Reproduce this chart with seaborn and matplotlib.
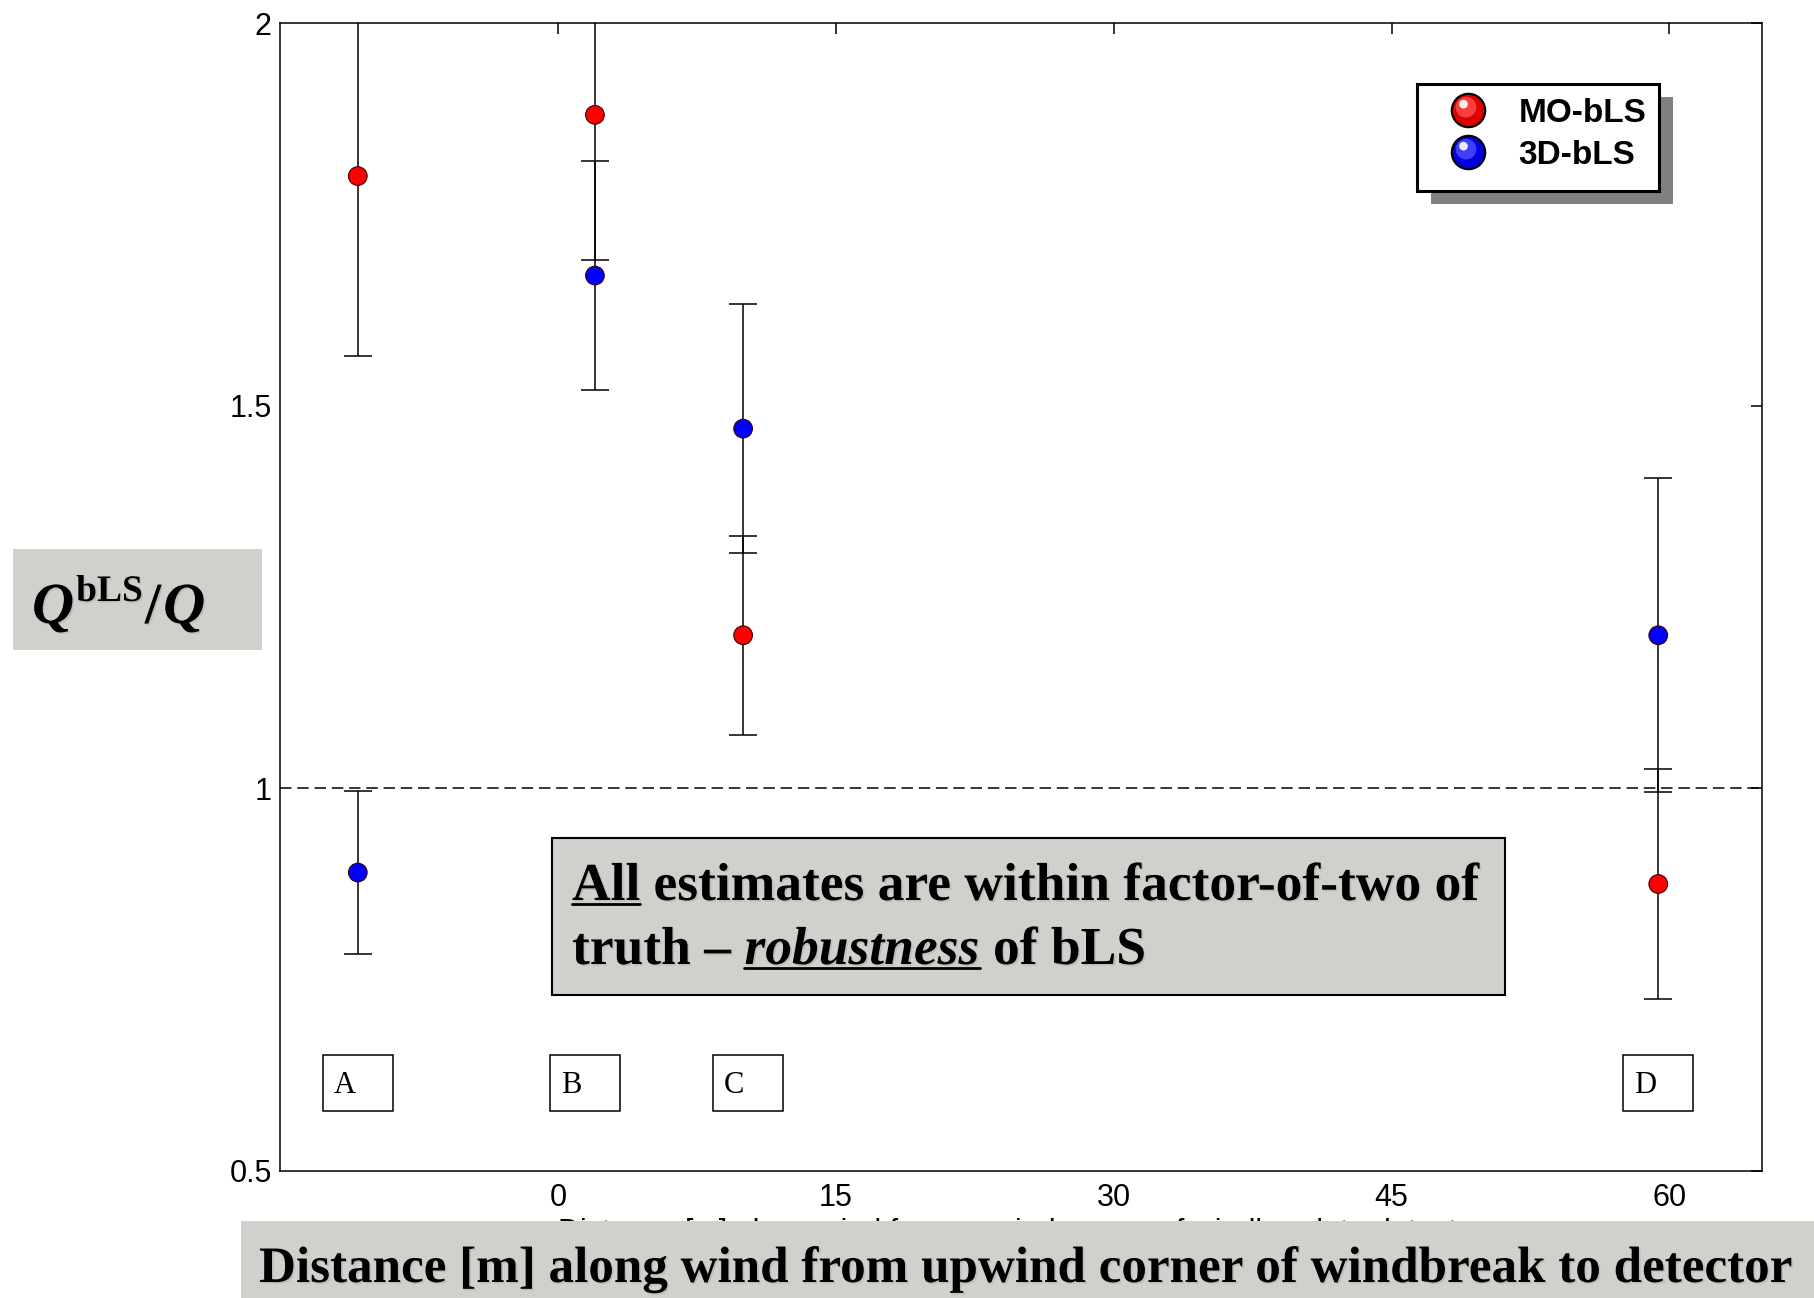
import numpy as np
import pandas as pd
import matplotlib
matplotlib.use("Agg")
import matplotlib.pyplot as plt
import seaborn as sns
from matplotlib.patches import Rectangle
from matplotlib.lines import Line2D
from matplotlib.path import Path
from matplotlib.legend_handler import HandlerTuple
import matplotlib.patheffects as pe

# Detector sites and their distance along the wind [m]
sites = ["A", "B", "C", "D"]
distance = [-10.8, 2.0, 10.0, 59.4]

# Ratio of inferred to true emission rate, with error half-widths
mo_bls = [1.80, 1.88, 1.20, 0.875]
mo_bls_err = [0.235, 0.19, 0.13, 0.15]
bls_3d = [0.89, 1.67, 1.47, 1.20]
bls_3d_err = [0.107, 0.15, 0.163, 0.205]

methods = ["MO-bLS", "3D-bLS"]
xticks = [0, 15, 30, 45, 60]
yticks = [0.5, 1.0, 1.5, 2.0]
ytick_labels = ["0.5", "1", "1.5", "2"]

df = pd.DataFrame({
    "site": sites * 2,
    "x": distance * 2,
    "method": [methods[0]] * 4 + [methods[1]] * 4,
    "ratio": mo_bls + bls_3d,
    "err": mo_bls_err + bls_3d_err,
})

W, H, DPI = 1815, 1298, 100
GREY = "#d2d0cc"
SERIF = "Liberation Serif"

sns.set_style("white")
plt.rcParams["font.family"] = ["Liberation Sans", "DejaVu Sans"]
plt.rcParams.update({"text.color": "black", "axes.labelcolor": "black",
                     "xtick.color": "black", "ytick.color": "black"})

fig = plt.figure(figsize=(W / DPI, H / DPI), dpi=DPI)
ax = fig.add_axes([280 / W, 1 - 1171 / H, 1482 / W, 1148 / H])

# error bars first, markers on top
ax.errorbar(df["x"], df["ratio"], yerr=df["err"], fmt="none", ecolor="black",
            elinewidth=1.1, capsize=10, capthick=1.1, zorder=2)
sns.scatterplot(data=df, x="x", y="ratio", hue="method",
                palette={"MO-bLS": "#ff0000", "3D-bLS": "#0000ff"},
                s=180, marker="o", edgecolor="#3a0000", linewidth=0.8,
                legend=False, ax=ax, zorder=3)

ax.axhline(1.0, color="black", lw=1.1, ls=(0, (7.5, 3.8)), zorder=1)

ax.set_xlim(-15, 65)
ax.set_ylim(0.5, 2.0)
ax.set_xticks(xticks)
ax.set_xticklabels([str(t) for t in xticks])
ax.set_yticks(yticks)
ax.set_yticklabels(ytick_labels)
ax.tick_params(axis="both", direction="in", length=8, width=1.1, top=True,
               right=True, labelsize=22, colors="black")
ax.tick_params(axis="x", pad=9)
ax.tick_params(axis="y", pad=6)
for sp in ax.spines.values():
    sp.set_visible(True)
    sp.set_color("black")
    sp.set_linewidth(1.1)
ax.set_ylabel("")
ax.set_xlabel("Distance [m] along wind from upwind corner of windbreak to detector",
              fontsize=22, labelpad=3, color="black")

# site label boxes under each detector
label_shift = [0.0, -0.55, 0.25, 0.0]
for name, xs, dx in zip(sites, distance, label_shift):
    ax.add_patch(Rectangle((xs + dx - 1.9, 0.578), 3.8, 0.074, fill=False,
                           edgecolor="black", lw=1.1, zorder=2))
    ax.text(xs + dx - 1.3, 0.612, name, family=SERIF, fontsize=22,
            ha="left", va="center", zorder=2, color="black")


# legend with shaded sphere symbols
def sphere(face, mid):
    base = Line2D([], [], ls="none", marker="o", ms=24, mfc=face,
                  mec="black", mew=1.6)
    glow_path = Path.make_compound_path(Path([[1.0, 1.0]], [Path.MOVETO]),
                                        Path.circle((-0.15, 0.2), 0.62))
    glow = Line2D([], [], ls="none", marker=glow_path, ms=24, mfc=mid,
                  mec="none", alpha=0.8)
    hl_path = Path.make_compound_path(Path([[1.0, 1.0]], [Path.MOVETO]),
                                      Path.circle((-0.3, 0.38), 0.26))
    hl = Line2D([], [], ls="none", marker=hl_path, ms=24, mfc="white",
                mec="none", alpha=0.9)
    return (base, glow, hl)


lx0, ly0, lw_, lh_ = 0.767, 0.8537, 0.1635, 0.0932
ax.add_patch(Rectangle((lx0 + 0.0094, ly0 - 0.0113), lw_, lh_,
                       transform=ax.transAxes, facecolor="#808080",
                       edgecolor="none", zorder=4, clip_on=False))
ax.add_patch(Rectangle((lx0, ly0), lw_, lh_, transform=ax.transAxes,
                       facecolor="white", edgecolor="black", lw=2.2,
                       zorder=5, clip_on=False))
leg = ax.legend([sphere("#e00000", "#ff5050"), sphere("#0000e0", "#5050ff")],
                methods, handler_map={tuple: HandlerTuple(ndivide=1, pad=0)},
                loc="upper left", bbox_to_anchor=(0.7873, 0.935),
                frameon=False, borderpad=0, borderaxespad=0,
                handlelength=1.3, handletextpad=0.85, labelspacing=0.33,
                prop={"family": "Liberation Sans", "weight": "bold", "size": 24})
leg.set_zorder(6)

# grey label panels
shadow = [pe.withSimplePatchShadow(offset=(1.2, -1.2), shadow_rgbFace="0.55",
                                   alpha=0.25)]
fig.add_artist(Rectangle((13 / W, 1 - 650 / H), 249 / W, 101 / H,
                         transform=fig.transFigure, facecolor=GREY,
                         edgecolor="none", zorder=5))
fig.add_artist(Rectangle((241 / W, 0), (W - 241) / W, 77 / H,
                         transform=fig.transFigure, facecolor=GREY,
                         edgecolor="none", zorder=5))
fig.add_artist(Rectangle((552 / W, 1 - 995 / H), 953 / W, 157 / H,
                         transform=fig.transFigure, facecolor=GREY,
                         edgecolor="black", lw=1.5, zorder=5))

renderer = fig.canvas.get_renderer()


def place_runs(runs, x_px, y_px, gap=True):
    """Lay out styled text pieces on one baseline (pixel coords from top)."""
    x = x_px
    for text, size, style, dy, underline in runs:
        t = fig.text(x / W, 1 - (y_px - dy) / H, text, ha="left", va="baseline",
                     family=SERIF, weight="bold", style=style, fontsize=size,
                     color="black", path_effects=shadow, zorder=6)
        bb = t.get_window_extent(renderer)
        if underline:
            yl = H - y_px - 0.07 * size * DPI / 72
            fig.add_artist(Line2D([bb.x0 / W, bb.x1 / W], [yl / H, yl / H],
                                  transform=fig.transFigure, color="black",
                                  lw=2.0, zorder=6))
        x = bb.x1 + (0.25 * size * DPI / 72 if gap else 2)


# y-axis quantity
place_runs([("Q", 42, "italic", 0, False),
            ("bLS", 27, "normal", 22, False),
            ("/", 42, "normal", 0, False),
            ("Q", 42, "italic", 0, False)], 32, 623, gap=False)

# statement panel
place_runs([("All", 38.5, "normal", 0, True),
            ("estimates are within factor-of-two of", 38.5, "normal", 0, False)],
           572, 900)
place_runs([("truth \u2013", 38.5, "normal", 0, False),
            ("robustness", 38.5, "italic", 0, True),
            ("of bLS", 38.5, "normal", 0, False)], 572, 964)

# x-axis description
fig.text(259 / W, 1 - 1282 / H,
         "Distance [m] along wind from upwind corner of windbreak to detector",
         family=SERIF, weight="bold", fontsize=36.8, ha="left", va="baseline",
         color="black", path_effects=shadow, zorder=6)

fig.savefig("out.png", dpi=DPI)
